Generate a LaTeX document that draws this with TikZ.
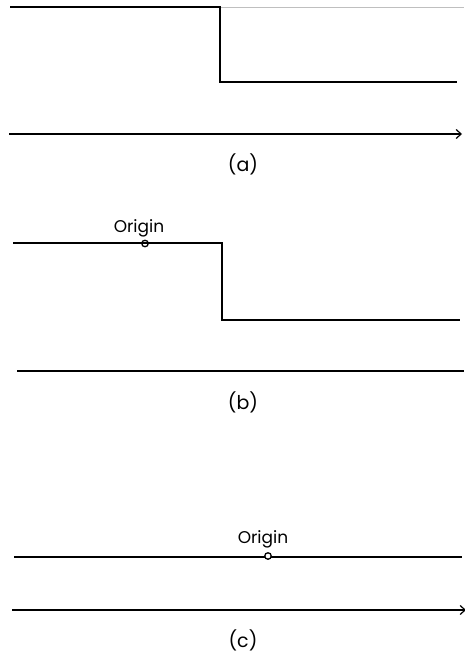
\documentclass[tikz,border=0pt]{standalone}
\usepackage{fontspec}
\setmainfont{Poppins}
\usetikzlibrary{arrows.meta}
\begin{document}
\begin{tikzpicture}[x=1pt,y=-1pt,
  prof/.style={line width=1.8pt, line join=miter},
  axisline/.style={line width=1.5pt},
  axarrow/.style={axisline, -{Straight Barb[length=5pt,width=9pt,line width=1.2pt]}},
  caption/.style={font=\fontsize{19}{22}\selectfont, inner sep=0pt},
  orig/.style={font=\fontsize{17}{20}\selectfont, inner sep=0pt},
  marker/.style={circle, draw, line width=1.3pt, minimum size=6.5pt, inner sep=0pt}]
\useasboundingbox (0,0) rectangle (464,660);
\fill[white] (0,0) rectangle (464,660);

% (a) step profile and axis
\coordinate (a1) at (10,7);
\coordinate (a2) at (220,7);
\coordinate (a3) at (220,82);
\coordinate (a4) at (457,82);
\coordinate (a5) at (464,7);
\draw[line width=0.8pt, black!25] (a2) -- (a5);
\draw[prof] (a1) -- (a2) -- (a3) -- (a4);
\coordinate (ax1) at (9,134);
\coordinate (ax2) at (462,134);
\draw[axarrow] (ax1) -- (ax2);
\node[caption] (capa) at (243,164) {(a)};

% (b) step profile with origin marker
\coordinate (b1) at (13,243);
\coordinate (b2) at (222,243);
\coordinate (b3) at (222,320);
\coordinate (b4) at (460,320);
\draw[prof] (b1) -- (b2) -- (b3) -- (b4);
\node[marker] (ob) at (145,243.5) {};
\node[orig] (lb) at (139,228) {Origin};
\coordinate (bx1) at (17,371);
\coordinate (bx2) at (464,371);
\draw[axisline] (bx1) -- (bx2);
\node[caption] (capb) at (243,402) {(b)};

% (c) flat profile with origin marker
\coordinate (c1) at (14,557);
\coordinate (c2) at (462,557);
\coordinate (c3) at (190,557);
\coordinate (c4) at (205,557);
\draw[line width=1.2pt] (c1) -- (c2);
\draw[line width=1.8pt] (c3) -- (c4);
\node[marker, fill=white] (oc) at (268,556) {};
\node[orig] (lc) at (263,539) {Origin};
\coordinate (cx1) at (12,610);
\coordinate (cx2) at (466,610);
\draw[axarrow] (cx1) -- (cx2);
\node[caption] (capc) at (243,640) {(c)};
\end{tikzpicture}
\end{document}
